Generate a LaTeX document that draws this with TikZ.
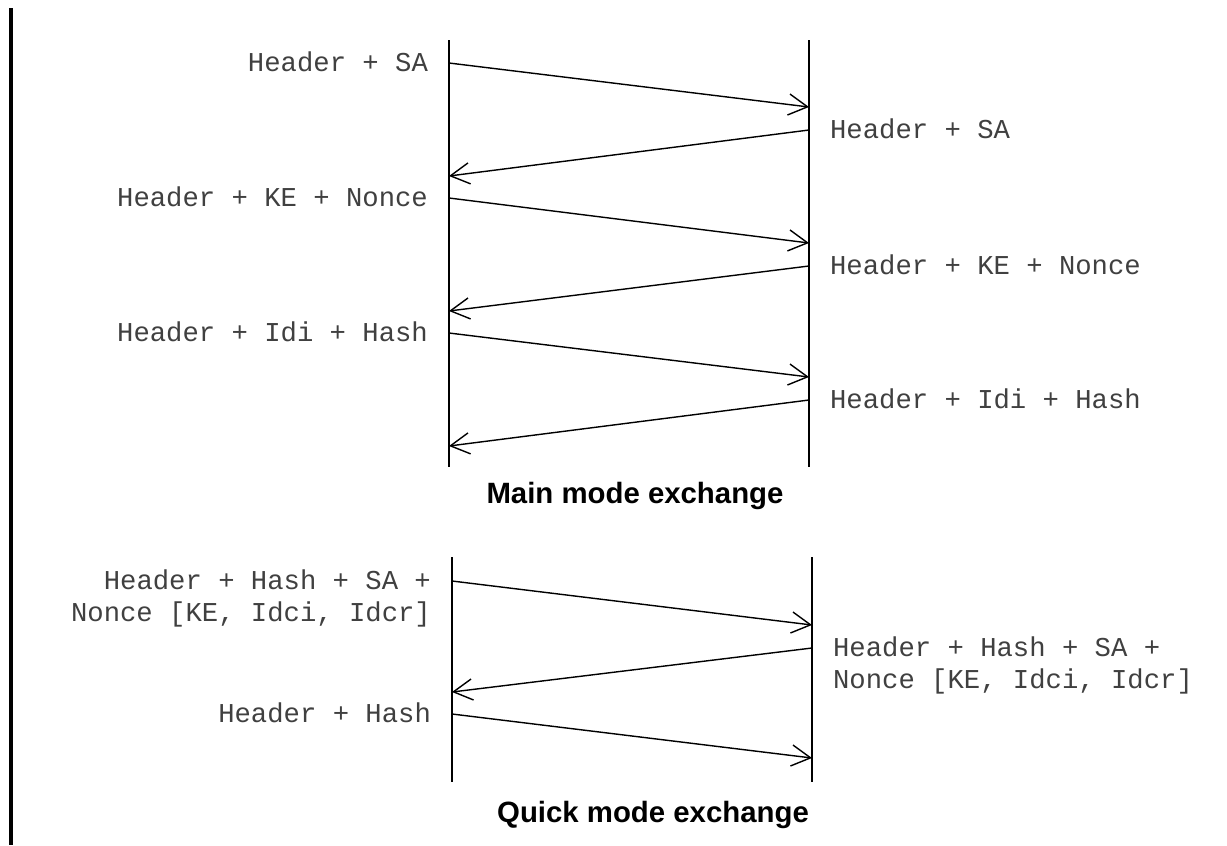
\documentclass[tikz,border=0pt]{standalone}
\usepackage{fontspec}
\setmonofont{Liberation Mono}
\setsansfont{Liberation Sans}
\usepackage{tikz}
\usetikzlibrary{arrows.meta, positioning}

\newcommand{\msgfont}{\fontsize{7.75}{9.1}\selectfont\ttfamily}

\begin{document}
\begin{tikzpicture}[
    x=0.01cm, y=-0.01cm,
    lifeline/.style={draw, line width=0.4pt},
    msg/.style={-{Straight Barb[length=5.4pt, width=6pt, line width=0.4pt]}, line width=0.4pt},
    lmsg/.style={font=\msgfont, text=black!75, anchor=base east, inner sep=0pt, align=right, xshift=-5.8pt, yshift=-2.4pt},
    rmsg/.style={font=\msgfont, text=black!75, anchor=base west, inner sep=0pt, align=left, xshift=5.8pt, yshift=-2.4pt},
    twoline/.style={yshift=-9.1pt},
    title/.style={font=\fontsize{8.35}{10}\selectfont\sffamily\bfseries, anchor=base, inner sep=0pt},
]
\useasboundingbox (0,0) rectangle (1227,845);

% Left border
\coordinate (bTop) at (11,8);
\coordinate (bBot) at (11,845);
\draw[line width=0.9pt] (bTop) -- (bBot);

% Main mode lifelines
\coordinate (iTop) at (449,40);
\coordinate (iBot) at (449,467);
\coordinate (rTop) at (809,40);
\coordinate (rBot) at (809,467);
\draw[lifeline] (iTop) -- (iBot);
\draw[lifeline] (rTop) -- (rBot);

% Main mode messages
\coordinate (s1) at (449,63);  \coordinate (e1) at (809,107);
\coordinate (r1) at (809,130); \coordinate (f1) at (449,176);
\coordinate (s2) at (449,198); \coordinate (e2) at (809,243);
\coordinate (r2) at (809,266); \coordinate (f2) at (449,311);
\coordinate (s3) at (449,333); \coordinate (e3) at (809,377);
\coordinate (r3) at (809,400); \coordinate (f3) at (449,446);

\node[lmsg] (hsa) at (s1) {Header + SA};
\node[rmsg] (hsaR) at (r1) {Header + SA};
\node[lmsg] (hke) at (s2) {Header + KE + Nonce};
\node[rmsg] (hkeR) at (r2) {Header + KE + Nonce};
\node[lmsg] (hid) at (s3) {Header + Idi + Hash};
\node[rmsg] (hidR) at (r3) {Header + Idi + Hash};

\draw[msg] (s1) -- (e1);
\draw[msg] (r1) -- (f1);
\draw[msg] (s2) -- (e2);
\draw[msg] (r2) -- (f2);
\draw[msg] (s3) -- (e3);
\draw[msg] (r3) -- (f3);

\node[title] (mainT) at (635,503) {Main mode exchange};

% Quick mode lifelines
\coordinate (qiTop) at (452,557);
\coordinate (qiBot) at (452,782);
\coordinate (qrTop) at (812,557);
\coordinate (qrBot) at (812,782);
\draw[lifeline] (qiTop) -- (qiBot);
\draw[lifeline] (qrTop) -- (qrBot);

% Quick mode messages
\coordinate (s4) at (452,581); \coordinate (e4) at (812,625);
\coordinate (r4) at (812,648); \coordinate (f4) at (452,692);
\coordinate (s5) at (452,714); \coordinate (e5) at (812,758);

\node[lmsg, twoline] (qhs) at (s4) {Header + Hash + SA +\\Nonce [KE, Idci, Idcr]};
\node[rmsg, twoline] (qhsR) at (r4) {Header + Hash + SA +\\Nonce [KE, Idci, Idcr]};
\node[lmsg] (qhh) at (s5) {Header + Hash};

\draw[msg] (s4) -- (e4);
\draw[msg] (r4) -- (f4);
\draw[msg] (s5) -- (e5);

\node[title] (quickT) at (653,822) {Quick mode exchange};

\end{tikzpicture}
\end{document}
